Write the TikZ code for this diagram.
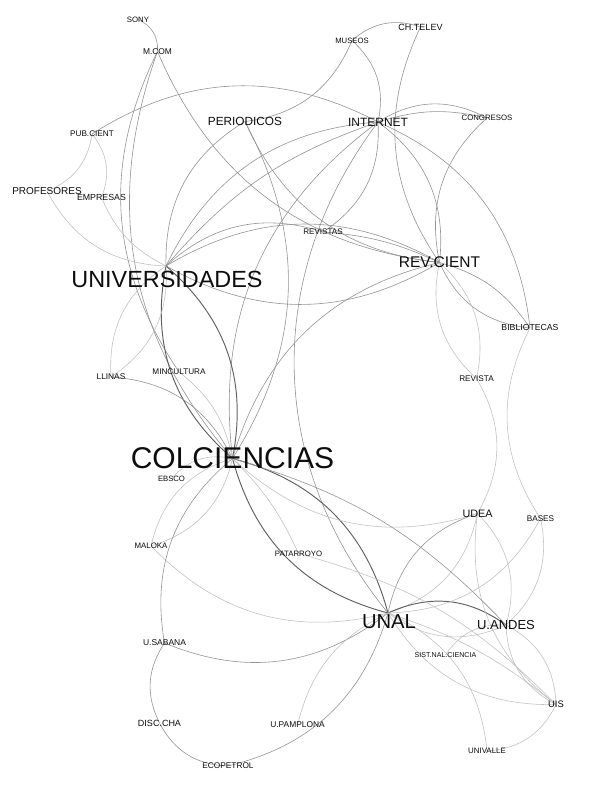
\documentclass[tikz,border=0pt]{standalone}
\usepackage{fontspec}
\setmainfont{Liberation Sans}
\pgfdeclarelayer{bg}
\pgfsetlayers{bg,main}
\begin{document}
\begin{tikzpicture}[x=1pt,y=1pt,
  v/.style={circle,inner sep=0pt,minimum size=0pt},
  lb/.style={font=\fontsize{#1}{#1}\selectfont, inner sep=0pt, text=black!95},
  e/.style={draw=black!42, line width=0.6pt},
  el/.style={draw=black!25, line width=0.55pt},
  ed/.style={draw=black!62, line width=0.95pt}]
\useasboundingbox (0,0) rectangle (602,785);
% nodes
\node[v,label={[lb=7.8]center:SONY}] (sony) at (138,765.5) {};
\node[v,label={[lb=8.4]center:M.COM}] (mcom) at (157.5,733.5) {};
\node[v,label={[lb=7.7]center:MUSEOS}] (museos) at (352,744.5) {};
\node[v,label={[lb=9]center:CH.TELEV}] (chtel) at (420.5,758) {};
\node[v,label={[lb=11.8]center:PERIODICOS}] (period) at (245,663.5) {};
\node[v,label={[lb=12]center:INTERNET}] (internet) at (378,663) {};
\node[v,label={[lb=7.8]center:CONGRESOS}] (congr) at (487,667) {};
\node[v,label={[lb=8.2]center:PUB.CIENT}] (pubc) at (92,651) {};
\node[v,label={[lb=10]center:PROFESORES}] (prof) at (47,594) {};
\node[v,label={[lb=8.8]center:EMPRESAS}] (empr) at (101.5,587.5) {};
\node[v,label={[lb=8.1]center:REVISTAS}] (revistas) at (323,553) {};
\node[v,label={[lb=15.5]center:REV.CIENT}] (revc) at (439.5,522.5) {};
\node[v,label={[lb=23.4,xshift=1pt,yshift=-13pt]center:UNIVERSIDADES}] (univ) at (166,519) {};
\node[v,label={[lb=8.7]center:BIBLIOTECAS}] (biblio) at (530,457) {};
\node[v,label={[lb=8.3]center:LLINAS}] (llinas) at (111,408) {};
\node[v,label={[lb=8.2]center:MINCULTURA}] (mincul) at (179,413) {};
\node[v,label={[lb=8.2]center:REVISTA}] (revista) at (476.5,406.5) {};
\node[v,label={[lb=30]center:COLCIENCIAS}] (colc) at (232.5,326.5) {};
\node[v,label={[lb=7.7]center:EBSCO}] (ebsco) at (171.5,306.5) {};
\node[v,label={[lb=10.8]center:UDEA}] (udea) at (477.5,271.5) {};
\node[v,label={[lb=8.2]center:BASES}] (bases) at (540.5,266.5) {};
\node[v,label={[lb=7.9]center:MALOKA}] (maloka) at (151,239) {};
\node[v,label={[lb=7.8]center:PATARROYO}] (patar) at (298.5,231.5) {};
\node[v,label={[lb=20.2,xshift=1pt,yshift=-8.5pt]center:UNAL}] (unal) at (388,172) {};
\node[v,label={[lb=13]center:U.ANDES}] (uandes) at (506,160) {};
\node[v,label={[lb=8.5]center:U.SABANA}] (usabana) at (164.5,142) {};
\node[v,label={[lb=7.1]center:SIST.NAL.CIENCIA}] (sist) at (445.5,130) {};
\node[v,label={[lb=9.4]center:UIS}] (uis) at (556,80.5) {};
\node[v,label={[lb=9]center:DISC.CHA}] (discha) at (159.5,62) {};
\node[v,label={[lb=8.4]center:U.PAMPLONA}] (upamp) at (297.5,60) {};
\node[v,label={[lb=7.9]center:UNIVALLE}] (univalle) at (487,34) {};
\node[v,label={[lb=8.3]center:ECOPETROL}] (ecopetrol) at (228,19) {};
% edges
\begin{pgfonlayer}{bg}
\fill[white] (0,0) rectangle (602,785);
\draw[e] (sony) to[bend left=35] (mcom);
\draw[e] (mcom) to[bend right=30] (revc);
\draw[e] (mcom) to[bend right=30] (colc);
\draw[e] (mcom) to[bend right=30] (mincul);
\draw[e] (museos) to[bend left=30] (chtel);
\draw[e] (museos) to[bend left=30] (internet);
\draw[e] (museos) to[bend left=30] (period);
\draw[e] (chtel) to[bend right=30] (revc);
\draw[e] (pubc) to[bend left=30] (internet);
\draw[el] (pubc) to[bend left=30] (prof);
\draw[el] (pubc) to[bend left=30] (empr);
\draw[el] (prof) to[bend right=30] (univ);
\draw[el] (empr) to[bend right=20] (univ);
\draw[e] (internet) to[bend left=30] (congr);
\draw[e] (internet) to[bend left=15] (congr);
\draw[e] (congr) to[bend right=30] (revc);
\draw[e] (internet) to[bend left=30] (revc);
\draw[e] (internet) to[bend left=30] (biblio);
\draw[el] (biblio) to[bend right=30] (bases);
\draw[e] (revc) to[bend right=30] (biblio);
\draw[e] (revc) to[bend left=20] (biblio);
\draw[el] (revc) to[bend right=30] (revista);
\draw[el] (revc) to[bend left=30] (revista);
\draw[el] (revista) to[bend left=30] (udea);
\draw[e] (univ) to[bend left=30] (revistas);
\draw[e] (univ) to[bend left=30] (revc);
\draw[e] (univ) to[bend right=30] (revc);
\draw[e] (revistas) to[bend left=10] (revc);
\draw[e] (revistas) to[bend right=30] (internet);
\draw[e] (period) to[bend right=30] (univ);
\draw[e] (period) to[bend right=30] (revc);
\draw[e] (period) to[bend left=30] (colc);
\draw[e] (colc) to[bend left=30] (internet);
\draw[e] (internet) to[bend right=38] (unal);
\draw[e] (internet) to[bend right=30] (univ);
\draw[e] (internet) to[bend right=15] (univ);
\draw[ed] (univ) to[bend right=30] (colc);
\draw[ed] (univ) to[bend left=30] (colc);
\draw[el] (univ) to[bend right=30] (llinas);
\draw[el] (univ) to[bend left=30] (llinas);
\draw[e] (llinas) to[bend left=30] (colc);
\draw[el] (mincul) to[bend left=20] (colc);
\draw[e] (colc) to[bend left=30] (revc);
\draw[ed] (colc) to[bend right=30] (unal);
\draw[ed] (colc) to[bend left=30] (unal);
\draw[el] (colc) to[bend right=30] (maloka);
\draw[el] (colc) to[bend left=30] (maloka);
\draw[el] (maloka) to[bend right=30] (unal);
\draw[e] (colc) to[bend right=30] (usabana);
\draw[e] (usabana) to[bend right=30] (unal);
\draw[e] (usabana) to[bend right=30] (discha);
\draw[e] (discha) to[bend right=30] (ecopetrol);
\draw[e] (ecopetrol) to[bend right=30] (unal);
\draw[el] (upamp) to[bend left=25] (unal);
\draw[e] (unal) to[bend left=30] (udea);
\draw[el] (unal) to[bend right=30] (udea);
\draw[ed] (unal) to[bend left=30] (uandes);
\draw[el] (unal) to[bend right=30] (uandes);
\draw[el] (unal) to[bend right=30] (bases);
\draw[el] (unal) to[bend right=30] (uis);
\draw[el] (unal) to[bend left=10] (uis);
\draw[el] (unal) to[bend left=30] (univalle);
\draw[el] (sist) to[bend left=30] (uandes);
\draw[el] (uandes) to[bend left=30] (uis);
\draw[el] (uandes) to[bend right=30] (uis);
\draw[el] (udea) to[bend right=30] (uis);
\draw[el] (udea) to[bend left=30] (uandes);
\draw[el] (bases) to[bend left=30] (uandes);
\draw[el] (uis) to[bend left=30] (univalle);
\draw[el] (colc) to[bend right=30] (udea);
\draw[el] (colc) to[bend left=10] (patar);
\draw[el] (patar) to[bend left=15] (uis);
\draw[e] (colc) to[bend left=15] (uandes);
\draw[el] (ebsco) to[bend left=30] (colc);
\end{pgfonlayer}
\end{tikzpicture}
\end{document}
